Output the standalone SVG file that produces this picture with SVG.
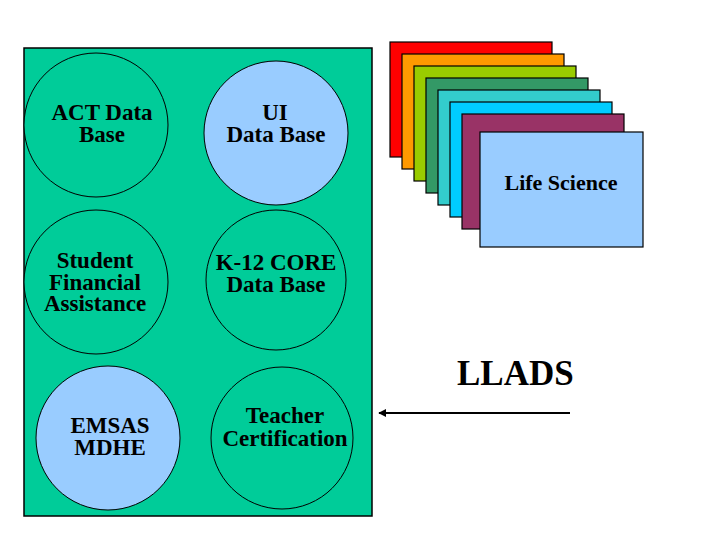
<svg xmlns="http://www.w3.org/2000/svg" width="720" height="540" viewBox="0 0 720 540">
<style>
  .db { stroke: #000; stroke-width: 1; }
  .card { stroke: #000; stroke-width: 1.2; }
</style>
<defs>
  <marker id="arrow" viewBox="0 0 10 10" refX="9" refY="5" markerWidth="4" markerHeight="4" orient="auto">
    <path d="M0,0 L10,5 L0,10 z" fill="#000"/>
  </marker>
</defs>
<rect width="720" height="540" fill="#fff"/>
<g id="container">
  <rect x="24" y="48" width="348" height="468" fill="#00CC99" stroke="#000" stroke-width="1.5"/>
</g>
<g font-family="Liberation Serif, Times New Roman, Times, serif" font-weight="bold" font-size="23" fill="#000" text-anchor="middle">
<g id="act">
  <circle class="db" cx="96" cy="125" r="72" fill="#00CC99"/>
  <text x="102" y="120">ACT Data</text>
  <text x="102" y="142">Base</text>
</g>
<g id="ui">
  <circle class="db" cx="276" cy="133" r="72" fill="#99CCFF"/>
  <text x="275" y="120">UI</text>
  <text x="276" y="142">Data Base</text>
</g>
<g id="student">
  <circle class="db" cx="96" cy="282" r="72" fill="#00CC99"/>
  <text x="95" y="268">Student</text>
  <text x="95" y="289.5">Financial</text>
  <text x="95" y="311">Assistance</text>
</g>
<g id="k12">
  <circle class="db" cx="276" cy="280" r="70" fill="#00CC99"/>
  <text x="276" y="270">K-12 CORE</text>
  <text x="276" y="292">Data Base</text>
</g>
<g id="emsas">
  <circle class="db" cx="108" cy="438" r="72" fill="#99CCFF"/>
  <text x="110" y="433">EMSAS</text>
  <text x="110" y="455">MDHE</text>
</g>
<g id="teacher">
  <circle class="db" cx="282" cy="438" r="71" fill="#00CC99"/>
  <text x="285" y="423">Teacher</text>
  <text x="285" y="446">Certification</text>
</g>
<g id="cards">
  <rect class="card" x="390" y="42" width="162" height="115" fill="#FF0000"/>
  <rect class="card" x="402" y="54" width="162" height="115" fill="#FF9900"/>
  <rect class="card" x="414" y="66" width="162" height="115" fill="#99CC00"/>
  <rect class="card" x="426" y="78" width="162" height="115" fill="#339966"/>
  <rect class="card" x="438" y="90" width="162" height="115" fill="#33CCCC"/>
  <rect class="card" x="450" y="102" width="162" height="115" fill="#00CCFF"/>
  <rect class="card" x="462" y="114" width="162" height="115" fill="#993366"/>
  <rect class="card" x="480" y="132" width="163" height="115" fill="#99CCFF"/>
  <text x="561" y="190" font-size="22">Life Science</text>
</g>
<g id="llads">
  <text x="457" y="385" font-size="35" text-anchor="start">LLADS</text>
</g>
</g>
<g id="connectors">
  <line x1="570" y1="413" x2="379" y2="413" stroke="#000" stroke-width="2" marker-end="url(#arrow)"/>
</g>
</svg>
